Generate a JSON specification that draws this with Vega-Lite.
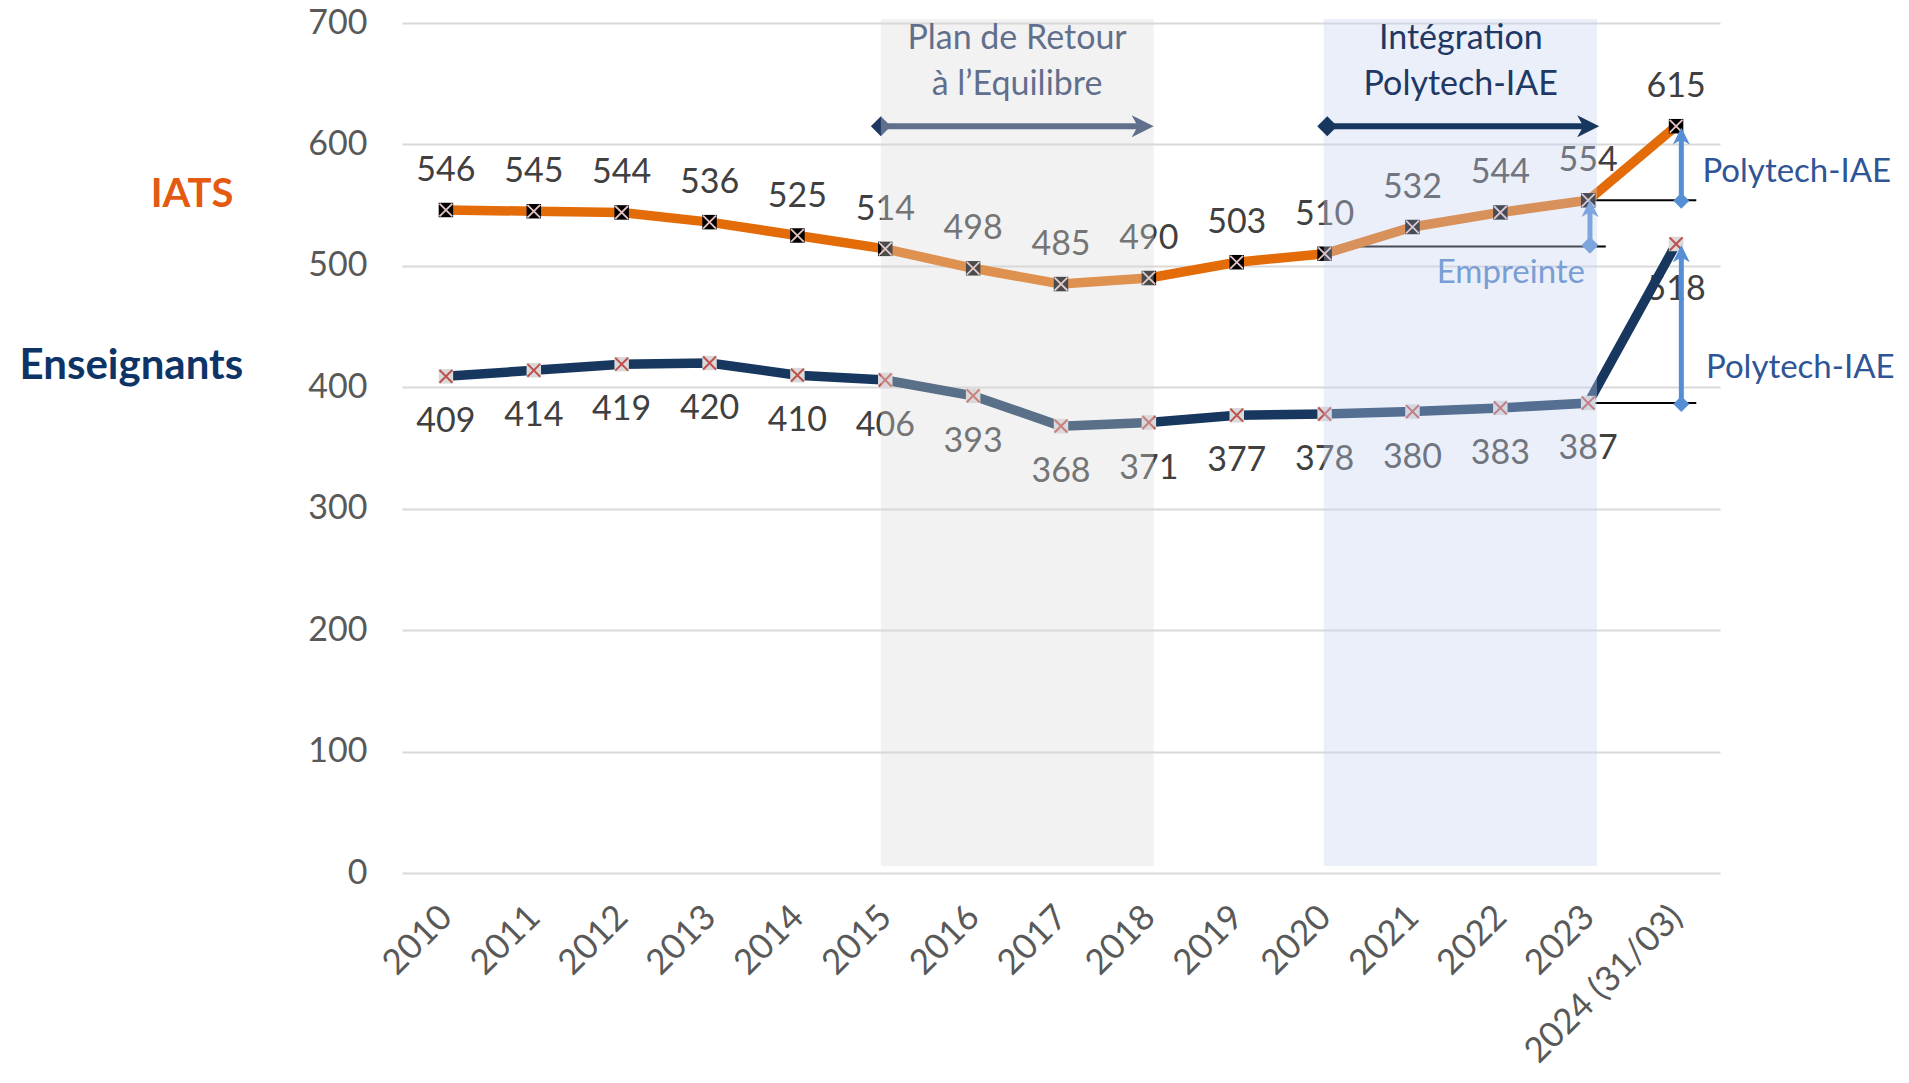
{
  "$schema": "https://vega.github.io/schema/vega-lite/v6.json",
  "autosize": "none",
  "width": 1318,
  "height": 850,
  "padding": {"left": 402, "right": 189, "top": 23, "bottom": 210},
  "background": "white",
  "config": {"view": {"stroke": null}, "font": "Lato"},
  "datasets": {
    "counts": [
      {"i": 0, "year": "2010", "series": "IATS", "value": 546},
      {"i": 1, "year": "2011", "series": "IATS", "value": 545},
      {"i": 2, "year": "2012", "series": "IATS", "value": 544},
      {"i": 3, "year": "2013", "series": "IATS", "value": 536},
      {"i": 4, "year": "2014", "series": "IATS", "value": 525},
      {"i": 5, "year": "2015", "series": "IATS", "value": 514},
      {"i": 6, "year": "2016", "series": "IATS", "value": 498},
      {"i": 7, "year": "2017", "series": "IATS", "value": 485},
      {"i": 8, "year": "2018", "series": "IATS", "value": 490},
      {"i": 9, "year": "2019", "series": "IATS", "value": 503},
      {"i": 10, "year": "2020", "series": "IATS", "value": 510},
      {"i": 11, "year": "2021", "series": "IATS", "value": 532},
      {"i": 12, "year": "2022", "series": "IATS", "value": 544},
      {"i": 13, "year": "2023", "series": "IATS", "value": 554},
      {"i": 14, "year": "2024 (31/03)", "series": "IATS", "value": 615},
      {"i": 0, "year": "2010", "series": "Enseignants", "value": 409},
      {"i": 1, "year": "2011", "series": "Enseignants", "value": 414},
      {"i": 2, "year": "2012", "series": "Enseignants", "value": 419},
      {"i": 3, "year": "2013", "series": "Enseignants", "value": 420},
      {"i": 4, "year": "2014", "series": "Enseignants", "value": 410},
      {"i": 5, "year": "2015", "series": "Enseignants", "value": 406},
      {"i": 6, "year": "2016", "series": "Enseignants", "value": 393},
      {"i": 7, "year": "2017", "series": "Enseignants", "value": 368},
      {"i": 8, "year": "2018", "series": "Enseignants", "value": 371},
      {"i": 9, "year": "2019", "series": "Enseignants", "value": 377},
      {"i": 10, "year": "2020", "series": "Enseignants", "value": 378},
      {"i": 11, "year": "2021", "series": "Enseignants", "value": 380},
      {"i": 12, "year": "2022", "series": "Enseignants", "value": 383},
      {"i": 13, "year": "2023", "series": "Enseignants", "value": 387},
      {"i": 14, "year": "2024 (31/03)", "series": "Enseignants", "value": 518}
    ],
    "refs": [
      {"x": 13, "x2": 14.23, "y": 554},
      {"x": 13, "x2": 14.23, "y": 387},
      {"x": 10.4, "x2": 13.2, "y": 516}
    ],
    "periods": [
      {"name": "Plan", "x": 4.95, "x2": 8.055, "y": 5.8, "y2": 703.3},
      {"name": "Integ", "x": 9.99, "x2": 13.1, "y": 5.8, "y2": 703.3}
    ],
    "harrows": [
      {"name": "Plan", "x": 4.95, "x2": 7.93, "y": 615},
      {"name": "Integ", "x": 10.03, "x2": 13.0, "y": 615}
    ],
    "varrows": [
      {"name": "Empreinte", "x": 13.02, "y": 517, "y2": 547.3},
      {"name": "IATS", "x": 14.06, "y": 553.7, "y2": 607},
      {"name": "Ens", "x": 14.06, "y": 386.2, "y2": 510}
    ],
    "notes": [
      {"k": "plan", "x": 6.5, "y": 678.3, "t": "Plan de Retour"},
      {"k": "plan", "x": 6.5, "y": 640.7, "t": "à l’Equilibre"},
      {"k": "integ", "x": 11.55, "y": 678.3, "t": "Intégration"},
      {"k": "integ", "x": 11.55, "y": 640.7, "t": "Polytech-IAE"},
      {"k": "emp", "x": 12.12, "y": 486.2, "t": "Empreinte"},
      {"k": "poly", "x": 14.3, "y": 569.3, "t": "Polytech-IAE"},
      {"k": "poly", "x": 14.34, "y": 408, "t": "Polytech-IAE"},
      {"k": "iats", "x": -2.89, "y": 548.7, "t": "IATS"},
      {"k": "ens", "x": -3.58, "y": 406.8, "t": "Enseignants"}
    ]
  },
  "layer": [
    {
      "data": {"name": "counts"},
      "transform": [{"filter": "datum.series === 'IATS'"}],
      "mark": {"type": "line", "strokeWidth": 0, "opacity": 0},
      "encoding": {
        "x": {
          "field": "i", "type": "quantitative",
          "scale": {"domain": [-0.5, 14.5], "nice": false, "zero": false},
          "axis": {
            "title": null, "grid": false, "ticks": false, "domain": false,
            "values": [0,1,2,3,4,5,6,7,8,9,10,11,12,13,14],
            "labelExpr": "['2010','2011','2012','2013','2014','2015','2016','2017','2018','2019','2020','2021','2022','2023','2024 (31/03)'][datum.value]",
            "labelAngle": -45, "labelAlign": "right", "labelBaseline": "middle",
            "labelPadding": 38, "labelFontSize": 35, "labelColor": "#595959",
            "labelFont": "Lato", "labelOverlap": false, "labelFlush": false, "labelBound": false, "labelLimit": 500
          }
        },
        "y": {
          "field": "value", "type": "quantitative",
          "scale": {"domain": [0, 700], "nice": false},
          "axis": {
            "title": null, "ticks": false, "domain": false,
            "values": [0,100,200,300,400,500,600,700],
            "grid": true, "gridColor": "#D9D9D9", "gridWidth": 2,
            "labelPadding": 35, "labelFontSize": 34, "labelColor": "#595959", "labelFont": "Lato"
          }
        }
      }
    },
    {
      "data": {"name": "counts"},
      "transform": [{"filter": "datum.series === 'IATS'"}],
      "mark": {"type": "text", "fontSize": 34, "color": "#404040", "baseline": "alphabetic", "align": "center", "dy": -29},
      "encoding": {"x": {"field": "i", "type": "quantitative"}, "y": {"field": "value", "type": "quantitative"}, "text": {"field": "value", "type": "quantitative"}}
    },
    {
      "data": {"name": "counts"},
      "transform": [{"filter": "datum.series === 'Enseignants'"}],
      "mark": {"type": "text", "fontSize": 34, "color": "#404040", "baseline": "alphabetic", "align": "center", "dy": 56},
      "encoding": {"x": {"field": "i", "type": "quantitative"}, "y": {"field": "value", "type": "quantitative"}, "text": {"field": "value", "type": "quantitative"}}
    },
    {
      "data": {"name": "refs"},
      "mark": {"type": "rule", "color": "#000000", "strokeWidth": 2},
      "encoding": {"x": {"field": "x", "type": "quantitative"}, "x2": {"field": "x2"}, "y": {"field": "y", "type": "quantitative"}}
    },
    {
      "data": {"name": "counts"},
      "transform": [{"filter": "datum.series === 'IATS'"}],
      "mark": {"type": "line", "color": "#E36C09", "strokeWidth": 9.5, "strokeJoin": "miter"},
      "encoding": {"x": {"field": "i", "type": "quantitative"}, "y": {"field": "value", "type": "quantitative"}}
    },
    {
      "data": {"name": "counts"},
      "transform": [{"filter": "datum.series === 'Enseignants'"}],
      "mark": {"type": "line", "color": "#17375E", "strokeWidth": 9.5, "strokeJoin": "miter"},
      "encoding": {"x": {"field": "i", "type": "quantitative"}, "y": {"field": "value", "type": "quantitative"}}
    },
    {
      "data": {"name": "counts"},
      "transform": [{"filter": "datum.series === 'IATS'"}],
      "mark": {"type": "point", "shape": "square", "filled": true, "size": 210, "color": "#000000", "opacity": 1},
      "encoding": {"x": {"field": "i", "type": "quantitative"}, "y": {"field": "value", "type": "quantitative"}}
    },
    {
      "data": {"name": "counts"},
      "transform": [{"filter": "datum.series === 'IATS'"}],
      "mark": {"type": "point", "shape": "M-1,-1L1,1M-1,1L1,-1", "filled": false, "size": 165, "color": "#E6C3C3", "strokeWidth": 1.8, "opacity": 1},
      "encoding": {"x": {"field": "i", "type": "quantitative"}, "y": {"field": "value", "type": "quantitative"}}
    },
    {
      "data": {"name": "counts"},
      "transform": [{"filter": "datum.series === 'Enseignants'"}],
      "mark": {"type": "point", "shape": "square", "filled": true, "size": 210, "color": "#D9D9D9", "opacity": 1},
      "encoding": {"x": {"field": "i", "type": "quantitative"}, "y": {"field": "value", "type": "quantitative"}}
    },
    {
      "data": {"name": "counts"},
      "transform": [{"filter": "datum.series === 'Enseignants'"}],
      "mark": {"type": "point", "shape": "M-1,-1L1,1M-1,1L1,-1", "filled": false, "size": 165, "color": "#C0504D", "strokeWidth": 2, "opacity": 1},
      "encoding": {"x": {"field": "i", "type": "quantitative"}, "y": {"field": "value", "type": "quantitative"}}
    },
    {
      "data": {"name": "harrows"},
      "transform": [{"filter": "datum.name === 'Plan'"}],
      "layer": [
        {"mark": {"type": "rule", "color": "#1F3864", "strokeWidth": 6}, "encoding": {"x": {"field": "x", "type": "quantitative"}, "x2": {"field": "x2"}, "y": {"field": "y", "type": "quantitative"}}},
        {"mark": {"type": "point", "shape": "diamond", "filled": true, "size": 400, "color": "#1F3864", "opacity": 1}, "encoding": {"x": {"field": "x", "type": "quantitative"}, "y": {"field": "y", "type": "quantitative"}}},
        {"mark": {"type": "point", "shape": "M1,0L-1,1L-0.45,0L-1,-1Z", "filled": true, "size": 484, "color": "#1F3864", "opacity": 1}, "encoding": {"x": {"field": "x2", "type": "quantitative"}, "y": {"field": "y", "type": "quantitative"}}}
      ]
    },
    {
      "data": {"name": "notes"},
      "transform": [{"filter": "datum.k === 'plan'"}],
      "mark": {"type": "text", "fontSize": 34, "color": "#1F3864", "align": "center", "baseline": "alphabetic"},
      "encoding": {"x": {"field": "x", "type": "quantitative"}, "y": {"field": "y", "type": "quantitative"}, "text": {"field": "t"}}
    },
    {
      "data": {"name": "varrows"},
      "transform": [{"filter": "datum.name === 'Empreinte'"}],
      "layer": [
        {"mark": {"type": "rule", "color": "#558ED5", "strokeWidth": 5}, "encoding": {"x": {"field": "x", "type": "quantitative"}, "y": {"field": "y", "type": "quantitative"}, "y2": {"field": "y2"}}},
        {"mark": {"type": "point", "shape": "diamond", "filled": true, "size": 289, "color": "#558ED5", "opacity": 1}, "encoding": {"x": {"field": "x", "type": "quantitative"}, "y": {"field": "y", "type": "quantitative"}}},
        {"mark": {"type": "point", "shape": "M0,-1L1,1L0,0.45L-1,1Z", "filled": true, "size": 289, "color": "#558ED5", "opacity": 1}, "encoding": {"x": {"field": "x", "type": "quantitative"}, "y": {"field": "y2", "type": "quantitative"}}}
      ]
    },
    {
      "data": {"name": "notes"},
      "transform": [{"filter": "datum.k === 'emp'"}],
      "mark": {"type": "text", "fontSize": 33, "color": "#4F81C7", "align": "center", "baseline": "alphabetic"},
      "encoding": {"x": {"field": "x", "type": "quantitative"}, "y": {"field": "y", "type": "quantitative"}, "text": {"field": "t"}}
    },
    {
      "data": {"name": "periods"},
      "transform": [{"filter": "datum.name === 'Plan'"}],
      "mark": {"type": "rect", "color": "#D9D9D9", "opacity": 0.345},
      "encoding": {"x": {"field": "x", "type": "quantitative"}, "x2": {"field": "x2"}, "y": {"field": "y", "type": "quantitative"}, "y2": {"field": "y2"}}
    },
    {
      "data": {"name": "periods"},
      "transform": [{"filter": "datum.name === 'Integ'"}],
      "mark": {"type": "rect", "color": "#C4D3ED", "opacity": 0.36},
      "encoding": {"x": {"field": "x", "type": "quantitative"}, "x2": {"field": "x2"}, "y": {"field": "y", "type": "quantitative"}, "y2": {"field": "y2"}}
    },
    {
      "data": {"name": "harrows"},
      "transform": [{"filter": "datum.name === 'Integ'"}],
      "layer": [
        {"mark": {"type": "rule", "color": "#17375E", "strokeWidth": 6}, "encoding": {"x": {"field": "x", "type": "quantitative"}, "x2": {"field": "x2"}, "y": {"field": "y", "type": "quantitative"}}},
        {"mark": {"type": "point", "shape": "diamond", "filled": true, "size": 400, "color": "#17375E", "opacity": 1}, "encoding": {"x": {"field": "x", "type": "quantitative"}, "y": {"field": "y", "type": "quantitative"}}},
        {"mark": {"type": "point", "shape": "M1,0L-1,1L-0.45,0L-1,-1Z", "filled": true, "size": 484, "color": "#17375E", "opacity": 1}, "encoding": {"x": {"field": "x2", "type": "quantitative"}, "y": {"field": "y", "type": "quantitative"}}}
      ]
    },
    {
      "data": {"name": "notes"},
      "transform": [{"filter": "datum.k === 'integ'"}],
      "mark": {"type": "text", "fontSize": 34, "color": "#1F3864", "align": "center", "baseline": "alphabetic"},
      "encoding": {"x": {"field": "x", "type": "quantitative"}, "y": {"field": "y", "type": "quantitative"}, "text": {"field": "t"}}
    },
    {
      "data": {"name": "varrows"},
      "transform": [{"filter": "datum.name !== 'Empreinte'"}],
      "layer": [
        {"mark": {"type": "rule", "color": "#558ED5", "strokeWidth": 5}, "encoding": {"x": {"field": "x", "type": "quantitative"}, "y": {"field": "y", "type": "quantitative"}, "y2": {"field": "y2"}}},
        {"mark": {"type": "point", "shape": "diamond", "filled": true, "size": 256, "color": "#558ED5", "opacity": 1}, "encoding": {"x": {"field": "x", "type": "quantitative"}, "y": {"field": "y", "type": "quantitative"}}},
        {"mark": {"type": "point", "shape": "M0,-1L1,1L0,0.45L-1,1Z", "filled": true, "size": 289, "color": "#558ED5", "opacity": 1}, "encoding": {"x": {"field": "x", "type": "quantitative"}, "y": {"field": "y2", "type": "quantitative"}}}
      ]
    },
    {
      "data": {"name": "notes"},
      "transform": [{"filter": "datum.k === 'poly'"}],
      "mark": {"type": "text", "fontSize": 33, "color": "#2F5597", "align": "left", "baseline": "alphabetic"},
      "encoding": {"x": {"field": "x", "type": "quantitative"}, "y": {"field": "y", "type": "quantitative"}, "text": {"field": "t"}}
    },
    {
      "data": {"name": "notes"},
      "transform": [{"filter": "datum.k === 'iats'"}],
      "mark": {"type": "text", "fontSize": 40, "fontWeight": "bold", "color": "#E55A11", "align": "center", "baseline": "alphabetic"},
      "encoding": {"x": {"field": "x", "type": "quantitative"}, "y": {"field": "y", "type": "quantitative"}, "text": {"field": "t"}}
    },
    {
      "data": {"name": "notes"},
      "transform": [{"filter": "datum.k === 'ens'"}],
      "mark": {"type": "text", "fontSize": 42, "fontWeight": "bold", "color": "#0E3467", "align": "center", "baseline": "alphabetic"},
      "encoding": {"x": {"field": "x", "type": "quantitative"}, "y": {"field": "y", "type": "quantitative"}, "text": {"field": "t"}}
    }
  ]
}
